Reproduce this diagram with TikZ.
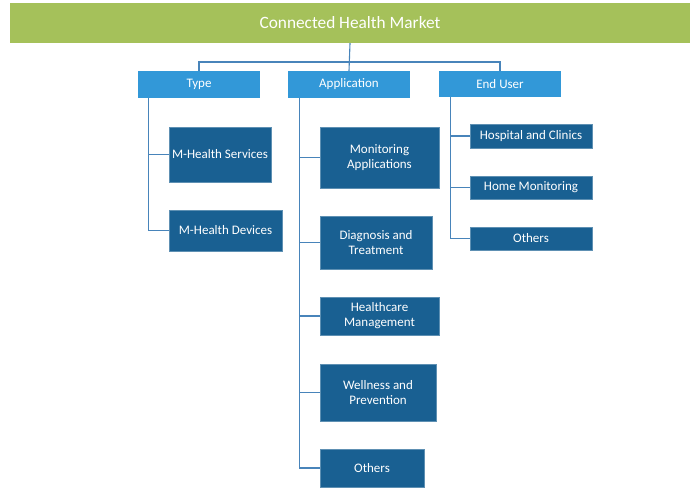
\documentclass[tikz,border=0pt]{standalone}
\usepackage{fontspec}
\setmainfont{Carlito}
\definecolor{titlegreen}{RGB}{165,193,90}
\definecolor{catblue}{RGB}{50,152,216}
\definecolor{subblue}{RGB}{25,96,146}
\definecolor{linkblue}{RGB}{72,132,186}
\begin{document}
\begin{tikzpicture}[x=1pt,y=-1pt,
    title/.style={fill=titlegreen,text=white,minimum width=680pt,minimum height=40pt,font=\fontsize{17.3}{20}\selectfont},
    cat/.style={fill=catblue,text=white,minimum width=122pt,minimum height=27pt,font=\fontsize{13}{15}\selectfont},
    sub/.style={fill=subblue,draw=subblue!70!white,text=white,align=center,inner sep=1pt,font=\fontsize{13}{15}\selectfont},
    link/.style={draw=linkblue,line width=1.1pt}]
        \useasboundingbox (0,0) rectangle (700,489);

        \node[title] (market) at (350,23) {Connected Health Market};
        \node[cat] (type) at (199,84.5) {Type};
        \node[cat] (app) at (349,84.5) {Application};
        \node[cat,minimum height=26pt] (user) at (500,84) {End User};
        \coordinate (hub) at (349,62);

        \node[sub,minimum width=102pt,minimum height=55pt] (mhs) at (220,154.5) {M-Health Services};
        \node[sub,minimum width=113pt,minimum height=41pt] (mhd) at (225.5,230.5) {M-Health Devices};

        \node[sub,minimum width=119pt,minimum height=61pt] (mon) at (379.5,157.5) {Monitoring\\Applications};
        \node[sub,minimum width=112pt,minimum height=53pt] (diag) at (376,242.5) {Diagnosis and\\Treatment};
        \node[sub,minimum width=119pt,minimum height=38pt] (care) at (379.5,316) {Healthcare\\Management};
        \node[sub,minimum width=116pt,minimum height=57pt] (well) at (378,392.5) {Wellness and\\Prevention};
        \node[sub,minimum width=104pt,minimum height=38pt] (oapp) at (372,468) {Others};

        \node[sub,minimum width=122pt,minimum height=24pt] (hosp) at (531,136) {Hospital and Clinics};
        \node[sub,minimum width=122pt,minimum height=23pt] (home) at (531,187.5) {Home Monitoring};
        \node[sub,minimum width=122pt,minimum height=23pt] (ouser) at (531,238.5) {Others};

        \draw[link] (market.south) -- (app.north);
        \draw[link] (type.north) -- (type.north |- hub) -- (user.north |- hub) -- (user.north);

        \draw[link] ([xshift=11pt]type.south west) |- (mhs.west);
        \draw[link] ([xshift=11pt]type.south west) |- (mhd.west);

        \foreach \n in {mon,diag,care,well,oapp}
            \draw[link] ([xshift=12pt]app.south west) |- (\n.west);

        \foreach \n in {hosp,home,ouser}
            \draw[link] ([xshift=12pt]user.south west) |- (\n.west);
\end{tikzpicture}
\end{document}
